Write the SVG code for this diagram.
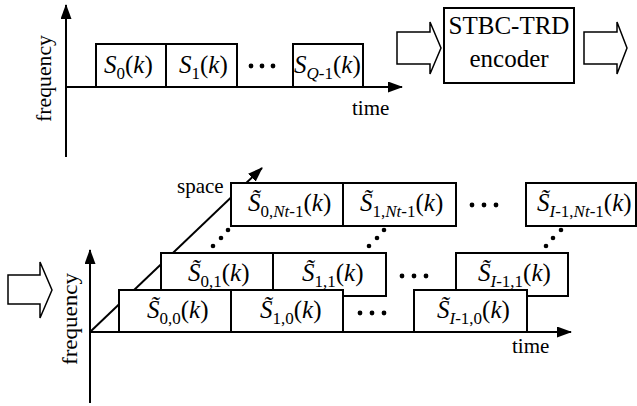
<svg xmlns="http://www.w3.org/2000/svg" width="637" height="406" viewBox="0 0 637 406">
<defs>
<marker id="ah" markerUnits="userSpaceOnUse" markerWidth="15" markerHeight="11" refX="14" refY="5.5" orient="auto">
<path d="M0,0 L15,5.5 L0,11 z" fill="#000"/>
</marker>
</defs>
<style>
.ax{stroke:#000;stroke-width:2;fill:none}
.bx{fill:#fff;stroke:#000;stroke-width:2}
.ha{fill:#fff;stroke:#000;stroke-width:1.5}
text{font-family:"Liberation Serif","Times New Roman",serif;fill:#000}
.lb{font-size:21px}
.m{font-size:25px}
.i{font-style:italic}
.s{font-size:17px}
.dot{fill:#000}
</style>
<rect width="637" height="406" fill="#fff"/>
<g id="connectors">
<line class="ax" x1="66" y1="157" x2="66" y2="5" marker-end="url(#ah)"/>
<line class="ax" x1="65" y1="87" x2="402" y2="87" marker-end="url(#ah)"/>
<line class="ax" x1="90" y1="403" x2="90" y2="250" marker-end="url(#ah)"/>
<line class="ax" x1="89" y1="332" x2="571" y2="332" marker-end="url(#ah)"/>
<line class="ax" x1="90" y1="332" x2="262" y2="168" marker-end="url(#ah)"/>
<polygon id="arrow1" class="ha" points="397,32 430,32 430,22 441,48 430,74 430,64 397,64"/>
<polygon id="arrow2" class="ha" points="584,32 617,32 617,22 627,48 617,74 617,64 584,64"/>
<polygon id="arrow3" class="ha" points="8,275 40,275 40,262 52,290 40,318 40,304 8,304"/>
</g>
<g id="labels">
<text class="lb" text-anchor="middle" transform="translate(51,78.5) rotate(-90)" textLength="87" lengthAdjust="spacingAndGlyphs">frequency</text>
<text class="lb" x="352" y="115">time</text>
<text class="lb" text-anchor="middle" transform="translate(77,319) rotate(-90)" textLength="92" lengthAdjust="spacingAndGlyphs">frequency</text>
<text class="lb" x="512" y="353">time</text>
<text class="lb" x="177" y="193">space</text>
</g>
<g id="top-row">
<g id="s0"><rect class="bx" x="96" y="44" width="70" height="43"/><text class="m" x="104" y="73"><tspan class="i">S</tspan><tspan class="s" dy="6">0</tspan><tspan dy="-6">(</tspan><tspan class="i">k</tspan>)</text></g>
<g id="s1"><rect class="bx" x="166" y="44" width="71" height="43"/><text class="m" x="179" y="73"><tspan class="i">S</tspan><tspan class="s" dy="6">1</tspan><tspan dy="-6">(</tspan><tspan class="i">k</tspan>)</text></g>
<g id="dots-top"><circle class="dot" cx="251" cy="66" r="2.4"/><circle class="dot" cx="262" cy="66" r="2.4"/><circle class="dot" cx="273" cy="66" r="2.4"/></g>
<g id="sq"><rect class="bx" x="293" y="44" width="70" height="43"/><text class="m" x="294" y="73"><tspan class="i">S</tspan><tspan class="s" dy="6"><tspan class="i">Q</tspan>-1</tspan><tspan dy="-6">(</tspan><tspan class="i">k</tspan>)</text></g>
</g>
<g id="encoder">
<rect class="bx" x="444" y="8" width="130" height="75"/>
<text x="509" y="34" text-anchor="middle" font-size="25">STBC-TRD</text>
<text x="509" y="67" text-anchor="middle" font-size="25">encoder</text>
</g>
<g id="row2">
<g id="s0n"><rect class="bx" x="231" y="183" width="112" height="43"/><text class="m" x="248" y="211"><tspan class="i">S̃</tspan><tspan class="s" dy="6">0,<tspan class="i">Nt</tspan>-1</tspan><tspan dy="-6">(</tspan><tspan class="i">k</tspan>)</text></g>
<g id="s1n"><rect class="bx" x="343" y="183" width="113" height="43"/><text class="m" x="360" y="211"><tspan class="i">S̃</tspan><tspan class="s" dy="6">1,<tspan class="i">Nt</tspan>-1</tspan><tspan dy="-6">(</tspan><tspan class="i">k</tspan>)</text></g>
<g id="dots-r2"><circle class="dot" cx="472" cy="205" r="2.4"/><circle class="dot" cx="484" cy="205" r="2.4"/><circle class="dot" cx="496" cy="205" r="2.4"/></g>
<g id="sin"><rect class="bx" x="526" y="183" width="110" height="43"/><text class="m" x="537" y="211"><tspan class="i">S̃</tspan><tspan class="s" dy="6"><tspan class="i">I</tspan>-1,<tspan class="i">Nt</tspan>-1</tspan><tspan dy="-6">(</tspan><tspan class="i">k</tspan>)</text></g>
</g>
<g id="vdots">
<circle class="dot" cx="213" cy="246" r="2.3"/><circle class="dot" cx="221" cy="238" r="2.3"/><circle class="dot" cx="228" cy="230" r="2.3"/>
<circle class="dot" cx="369" cy="246" r="2.3"/><circle class="dot" cx="377" cy="238" r="2.3"/><circle class="dot" cx="384" cy="230" r="2.3"/>
<circle class="dot" cx="546" cy="246" r="2.3"/><circle class="dot" cx="553" cy="238" r="2.3"/><circle class="dot" cx="561" cy="230" r="2.3"/>
</g>
<g id="row1">
<g id="s01"><rect class="bx" x="161" y="253" width="112" height="43"/><text class="m" x="188" y="281"><tspan class="i">S̃</tspan><tspan class="s" dy="6">0,1</tspan><tspan dy="-6">(</tspan><tspan class="i">k</tspan>)</text></g>
<g id="s11"><rect class="bx" x="273" y="253" width="113" height="43"/><text class="m" x="302" y="281"><tspan class="i">S̃</tspan><tspan class="s" dy="6">1,1</tspan><tspan dy="-6">(</tspan><tspan class="i">k</tspan>)</text></g>
<g id="dots-r1"><circle class="dot" cx="402" cy="276" r="2.4"/><circle class="dot" cx="414" cy="276" r="2.4"/><circle class="dot" cx="426" cy="276" r="2.4"/></g>
<g id="si1"><rect class="bx" x="456" y="253" width="112" height="43"/><text class="m" x="478" y="281"><tspan class="i">S̃</tspan><tspan class="s" dy="6"><tspan class="i">I</tspan>-1,1</tspan><tspan dy="-6">(</tspan><tspan class="i">k</tspan>)</text></g>
</g>
<g id="row0">
<g id="s00"><rect class="bx" x="119" y="290" width="112" height="42"/><text class="m" x="147" y="318"><tspan class="i">S̃</tspan><tspan class="s" dy="6">0,0</tspan><tspan dy="-6">(</tspan><tspan class="i">k</tspan>)</text></g>
<g id="s10"><rect class="bx" x="231" y="290" width="112" height="42"/><text class="m" x="260" y="318"><tspan class="i">S̃</tspan><tspan class="s" dy="6">1,0</tspan><tspan dy="-6">(</tspan><tspan class="i">k</tspan>)</text></g>
<g id="dots-r0"><circle class="dot" cx="360" cy="313" r="2.4"/><circle class="dot" cx="372" cy="313" r="2.4"/><circle class="dot" cx="384" cy="313" r="2.4"/></g>
<g id="si0"><rect class="bx" x="414" y="290" width="113" height="42"/><text class="m" x="437" y="318"><tspan class="i">S̃</tspan><tspan class="s" dy="6"><tspan class="i">I</tspan>-1,0</tspan><tspan dy="-6">(</tspan><tspan class="i">k</tspan>)</text></g>
</g>
</svg>
